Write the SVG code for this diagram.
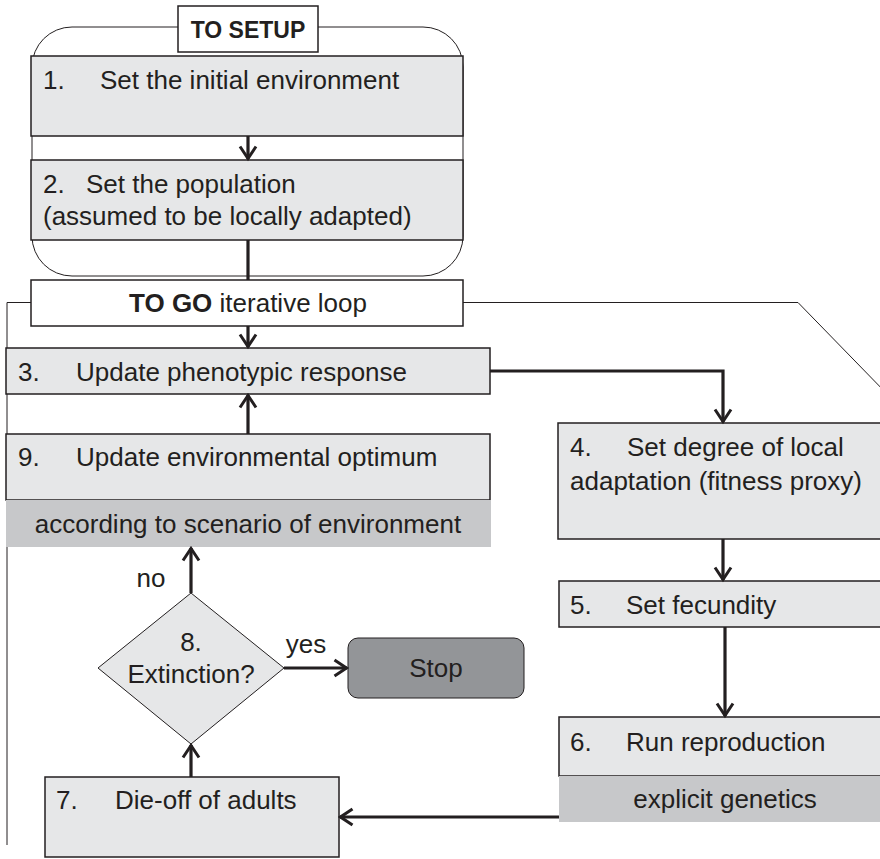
<svg xmlns="http://www.w3.org/2000/svg" width="880" height="859" viewBox="0 0 880 859">
<defs>
<marker id="arr" viewBox="0 0 18 20" refX="15.5" refY="10" markerWidth="18" markerHeight="20" markerUnits="userSpaceOnUse" orient="auto">
<polyline points="3,2 15,10 3,18" fill="none" stroke="#231f20" stroke-width="3"/>
</marker>
<style>
text{font-family:"Liberation Sans",Arial,sans-serif;font-size:26px;fill:#231f20}
.b{font-weight:bold}
.box{fill:#e6e7e8;stroke:#231f20;stroke-width:1.5}
.band{fill:#c7c8ca;stroke:none}
.wbox{fill:#ffffff;stroke:#231f20;stroke-width:1.5}
.thin{fill:none;stroke:#231f20;stroke-width:1}
.conn{fill:none;stroke:#231f20;stroke-width:3.2}
.mid{text-anchor:middle}
</style>
</defs>
<rect width="880" height="859" fill="#ffffff"/>
<g id="frame">
<rect x="32" y="27" width="431" height="249" rx="40" ry="40" class="thin"/>
<path class="thin" d="M31 302.5 H7 V845"/>
<path class="thin" d="M463 302.5 H798 L890 397"/>
</g>
<g id="setup">
<rect x="178" y="6" width="140" height="46" class="wbox"/>
<text x="248" y="38" class="b mid" style="font-size:23px">TO SETUP</text>
</g>
<g id="n1">
<rect x="31" y="56" width="432" height="80" class="box"/>
<text x="43" y="89">1.</text><text x="100" y="89">Set the initial environment</text>
</g>
<g id="n2">
<rect x="31" y="160" width="432" height="80" class="box"/>
<text x="43" y="193">2.</text><text x="86" y="193">Set the population</text>
<text x="43" y="225">(assumed to be locally adapted)</text>
</g>
<g id="togo">
<rect x="31" y="280" width="432" height="46" class="wbox"/>
<text x="248" y="312" class="mid"><tspan class="b">TO GO</tspan> iterative loop</text>
</g>
<g id="n3">
<rect x="6" y="348" width="484" height="46" class="box"/>
<text x="18" y="381">3.</text><text x="76" y="381">Update phenotypic response</text>
</g>
<g id="n9">
<rect x="6" y="434" width="484" height="66" class="box"/>
<rect x="6" y="500" width="485" height="47" class="band"/>
<text x="18" y="466">9.</text><text x="76" y="466">Update environmental optimum</text>
<text x="248" y="533" class="mid">according to scenario of environment</text>
</g>
<g id="n4">
<rect x="558" y="423" width="332" height="116" class="box"/>
<text x="570" y="456">4.</text><text x="627" y="456">Set degree of local</text>
<text x="570" y="490">adaptation (fitness proxy)</text>
</g>
<g id="n5">
<rect x="559" y="581" width="331" height="46" class="box"/>
<text x="570" y="614">5.</text><text x="626" y="614">Set fecundity</text>
</g>
<g id="n6">
<rect x="559" y="717" width="331" height="59" class="box"/>
<rect x="559" y="776" width="331" height="46" class="band"/>
<text x="570" y="751">6.</text><text x="626" y="751">Run reproduction</text>
<text x="725" y="808" class="mid">explicit genetics</text>
</g>
<g id="n7">
<rect x="45" y="777" width="294" height="80" class="box"/>
<text x="56" y="809">7.</text><text x="115" y="809">Die-off of adults</text>
</g>
<g id="n8">
<polygon points="191,593 284,668 191,744 98,668" fill="#e6e7e8" stroke="#231f20" stroke-width="1"/>
<text x="191" y="651" class="mid">8.</text>
<text x="191" y="683" class="mid">Extinction?</text>
</g>
<g id="stop">
<rect x="348" y="638" width="176" height="60" rx="10" ry="10" fill="#939598" stroke="#231f20" stroke-width="1"/>
<text x="436" y="677" class="mid">Stop</text>
</g>
<g id="connectors">
<line x1="248" y1="136" x2="248" y2="159" class="conn" marker-end="url(#arr)"/>
<line x1="248" y1="240" x2="248" y2="280" class="conn"/>
<line x1="248" y1="326" x2="248" y2="347" class="conn" marker-end="url(#arr)"/>
<polyline points="490,371 723,371 723,422" class="conn" marker-end="url(#arr)"/>
<line x1="723" y1="539" x2="723" y2="580" class="conn" marker-end="url(#arr)"/>
<line x1="725" y1="627" x2="725" y2="716" class="conn" marker-end="url(#arr)"/>
<line x1="559" y1="817" x2="340" y2="817" class="conn" marker-end="url(#arr)"/>
<line x1="191" y1="777" x2="191" y2="745" class="conn" marker-end="url(#arr)"/>
<line x1="284" y1="668" x2="347" y2="668" class="conn" marker-end="url(#arr)"/>
<line x1="191" y1="593" x2="191" y2="548" class="conn" marker-end="url(#arr)"/>
<line x1="248" y1="434" x2="248" y2="395" class="conn" marker-end="url(#arr)"/>
<text x="151" y="587" class="mid">no</text>
<text x="306" y="653" class="mid">yes</text>
</g>
</svg>
